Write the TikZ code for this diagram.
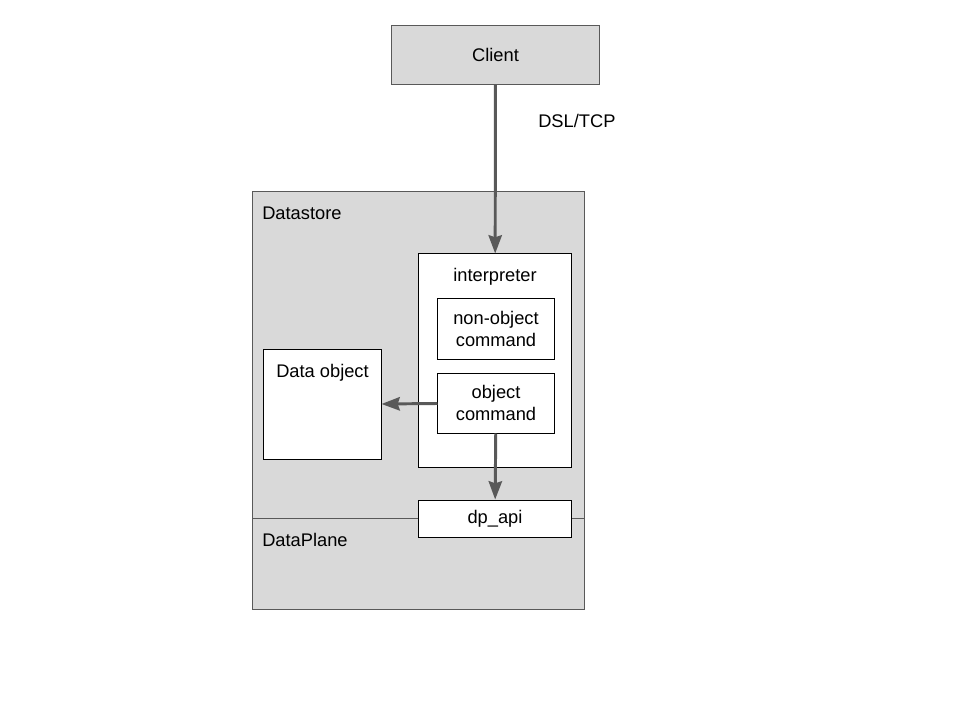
\documentclass[tikz,border=0pt]{standalone}
\usepackage{fontspec}
\setmainfont{Liberation Sans}
\usepackage{tikz}
\usetikzlibrary{arrows.meta, positioning}

\definecolor{boxgray}{HTML}{D9D9D9}
\definecolor{linegray}{HTML}{595959}

\begin{document}
\begin{tikzpicture}[
  x=0.025cm, y=-0.025cm,
  font=\fontsize{13}{15.6}\selectfont,
  area/.style={rectangle, draw=linegray, fill=boxgray, line width=0.7pt, inner sep=0pt},
  block/.style={rectangle, draw=black, fill=white, line width=0.7pt, inner sep=0pt, align=center},
  tag/.style={inner sep=0pt, anchor=base},
  flow/.style={-{Stealth[length=13pt, width=9.5pt, inset=1.5pt]}, draw=linegray, line width=2.1pt}
]
  \useasboundingbox (0,0) rectangle (960,720);

  \node[area, minimum width=5.175cm, minimum height=1.45cm] (client) at (495.5,55) {Client};
  \node[tag, anchor=base west] (proto) at (538,127.5) {DSL/TCP};

  % datastore and dataplane areas
  \node[area, minimum width=8.275cm, minimum height=8.175cm] (store) at (418.5,355.5) {};
  \node[area, minimum width=8.275cm, minimum height=2.25cm] (plane) at (418.5,564) {};
  \node[tag, anchor=base west] (storelbl) at (262,219.5) {Datastore};
  \node[tag, anchor=base west] (planelbl) at (262,546.5) {DataPlane};

  \node[block, minimum width=3.8cm, minimum height=5.325cm] (interp) at (495,360.5) {};
  \node[tag] (interplbl) at (495,282) {interpreter};
  \node[block, minimum width=2.9cm, minimum height=1.5cm] (nonobj) at (496,329) {non-object\\command};
  \node[block, minimum width=2.9cm, minimum height=1.5cm, below=0.325cm of nonobj] (objcmd) {object\\command};

  \node[block, minimum width=2.925cm, minimum height=2.725cm] (dataobj) at (322.5,404.5) {};
  \node[tag] (dataobjlbl) at (322.5,377.5) {Data object};

  \node[block, minimum width=3.8cm, minimum height=0.925cm] (dpapi) at (495,518.5) {dp\_api};

  \draw[flow] (client) -- (interp);
  \draw[flow] (objcmd) -- (dataobj);
  \draw[flow] (objcmd) -- (dpapi);
\end{tikzpicture}
\end{document}
